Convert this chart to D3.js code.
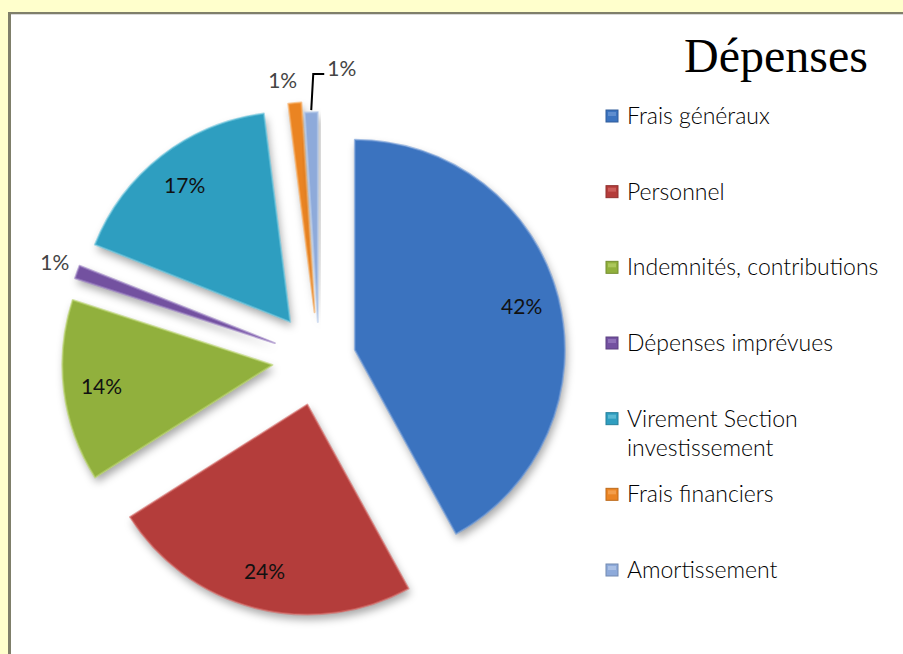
<!DOCTYPE html>
<html>
<head>
<meta charset="utf-8">
<script src="https://cdn.jsdelivr.net/npm/d3@7"></script>
<style>
  html, body { margin: 0; padding: 0; background: #ffffcc; }
  #chart { position: absolute; left: 0; top: 0; }
</style>
</head>
<body>
<div id="chart"></div>
<script>
// data
const categories = ["Frais généraux", "Personnel", "Indemnités, contributions",
  "Dépenses imprévues", "Virement Section investissement", "Frais financiers", "Amortissement"];
const values = [42, 24, 14, 1, 17, 1, 1];
const pctLabels = ["42%", "24%", "14%", "1%", "17%", "1%", "1%"];
const legendLines = [["Frais généraux"], ["Personnel"], ["Indemnités, contributions"],
  ["Dépenses imprévues"], ["Virement Section", "investissement"], ["Frais financiers"], ["Amortissement"]];
const colors = ["#3b73bf", "#b43c3a", "#91b03c", "#7351a0", "#2f9ec0", "#ea8423", "#8eaada"];
const lighter = ["#6f9ad6", "#d46a67", "#b8d26a", "#9a7ec2", "#6cc4dc", "#f7aa5c", "#b6c9ea"];

const width = 903, height = 654;
const cx = 319, cy = 359, R = 210;
const font = "Lato, 'Noto Sans', sans-serif";

const svg = d3.select("#chart").append("svg")
  .attr("width", width)
  .attr("height", height);

// frame
svg.append("rect").attr("x", 0).attr("y", 0).attr("width", width).attr("height", height).attr("fill", "#ffffcc");
svg.append("rect").attr("x", 8).attr("y", 12).attr("width", width - 8).attr("height", height - 12).attr("fill", "#7f7f6a");
svg.append("rect").attr("x", 11).attr("y", 14).attr("width", width - 11).attr("height", height - 14).attr("fill", "#ffffff");
svg.append("line").attr("x1", 11).attr("x2", width).attr("y1", 14.5).attr("y2", 14.5)
  .attr("stroke", "#d9d9d9").attr("stroke-width", 1);

const defs = svg.append("defs");
const shadow = defs.append("filter").attr("id", "shadow")
  .attr("x", "-20%").attr("y", "-20%").attr("width", "140%").attr("height", "140%");
shadow.append("feDropShadow").attr("dx", 2).attr("dy", 5).attr("stdDeviation", 4)
  .attr("flood-color", "#000").attr("flood-opacity", 0.35);

const pie = d3.pie().sort(null).value(d => d)
  .startAngle(0).endAngle(2 * Math.PI);
const arcs = pie(values);

const arc = d3.arc().innerRadius(0).outerRadius(R);
const labelArc = d3.arc().innerRadius(R * 0.82).outerRadius(R * 0.82);

// explosion distance per slice
const explode = arcs.map((a, i) => (i === 0 || i === 6) ? 37 : 47);

const mid = a => (a.startAngle + a.endAngle) / 2;
const offset = (a, i) => {
  const m = mid(a);
  return [explode[i] * Math.sin(m), -explode[i] * Math.cos(m)];
};

const pieG = svg.append("g").attr("transform", `translate(${cx},${cy})`);

const slices = pieG.selectAll("g.slice")
  .data(arcs)
  .join("g")
  .attr("class", "slice")
  .attr("transform", (d, i) => {
    const [ox, oy] = offset(d, i);
    return `translate(${ox},${oy})`;
  });

slices.append("path")
  .attr("d", arc)
  .attr("fill", (d, i) => colors[i])
  .attr("filter", "url(#shadow)");

slices.append("path")
  .attr("d", arc)
  .attr("fill", "none")
  .attr("stroke", (d, i) => lighter[i])
  .attr("stroke-width", 2)
  .attr("stroke-linejoin", "round")
  .attr("opacity", 0.6);

// inside labels
slices.filter(d => d.data >= 5).append("text")
  .attr("transform", d => `translate(${labelArc.centroid(d)})`)
  .attr("text-anchor", "middle")
  .attr("dy", "0.35em")
  .style("font-family", font)
  .style("font-size", "21px")
  .attr("fill", "#111")
  .text(d => pctLabels[d.index]);

// outside labels for small slices
arcs.forEach((a, i) => {
  if (a.data >= 5) return;
  const m = mid(a);
  const rr = R + explode[i];
  if (i === arcs.length - 1) {
    // leader line
    const x0 = rr * Math.sin(m), y0 = -rr * Math.cos(m) - 2;
    const x1 = x0 + 2, y1 = y0 - 36;
    pieG.append("path")
      .attr("d", `M${x0},${y0}L${x1},${y1}L${x1 + 11},${y1}`)
      .attr("fill", "none")
      .attr("stroke", "#000")
      .attr("stroke-width", 2);
    pieG.append("text")
      .attr("x", x1 + 14).attr("y", y1 - 5)
      .attr("dy", "0.35em")
      .style("font-family", font)
      .style("font-size", "21px")
      .attr("fill", "#444")
      .text(pctLabels[i]);
  } else {
    const lr = R + explode[i] + 28;
    const x = lr * Math.sin(m), y = -lr * Math.cos(m);
    const small = Math.abs(Math.sin(m)) < 0.3;
    pieG.append("text")
      .attr("x", small ? x + 5 : x + 4)
      .attr("y", small ? y + 5 : y)
      .attr("text-anchor", small ? "end" : "middle")
      .attr("dy", "0.35em")
      .style("font-family", font)
      .style("font-size", "21px")
      .attr("fill", "#444")
      .text(pctLabels[i]);
  }
});

// title
svg.append("text")
  .attr("x", 868).attr("y", 72)
  .attr("text-anchor", "end")
  .style("font-family", "'Liberation Serif', 'DejaVu Serif', serif")
  .style("font-size", "48px")
  .attr("fill", "#000")
  .text("Dépenses");

// legend
const legendY = d3.scalePoint().domain(categories).range([116, 570]);
const legend = svg.append("g");
categories.forEach((c, i) => {
  const y = legendY(c);
  const row = legend.append("g").attr("transform", `translate(606,${y})`);
  row.append("rect")
    .attr("x", 0).attr("y", -6)
    .attr("width", 12).attr("height", 12)
    .attr("fill", colors[i])
    .attr("stroke", d3.color(colors[i]).darker(0.6))
    .attr("stroke-width", 1);
  row.append("rect")
    .attr("x", 2).attr("y", -4)
    .attr("width", 8).attr("height", 4)
    .attr("fill", lighter[i])
    .attr("opacity", 0.7);
  legendLines[i].forEach((line, j) => {
    row.append("text")
      .attr("x", 21).attr("y", j * 29)
      .attr("dy", "0.35em")
      .style("font-family", font)
      .style("font-size", "23px")
      .style("font-weight", 300)
      .attr("fill", "#000")
      .text(line);
  });
});
</script>
</body>
</html>
